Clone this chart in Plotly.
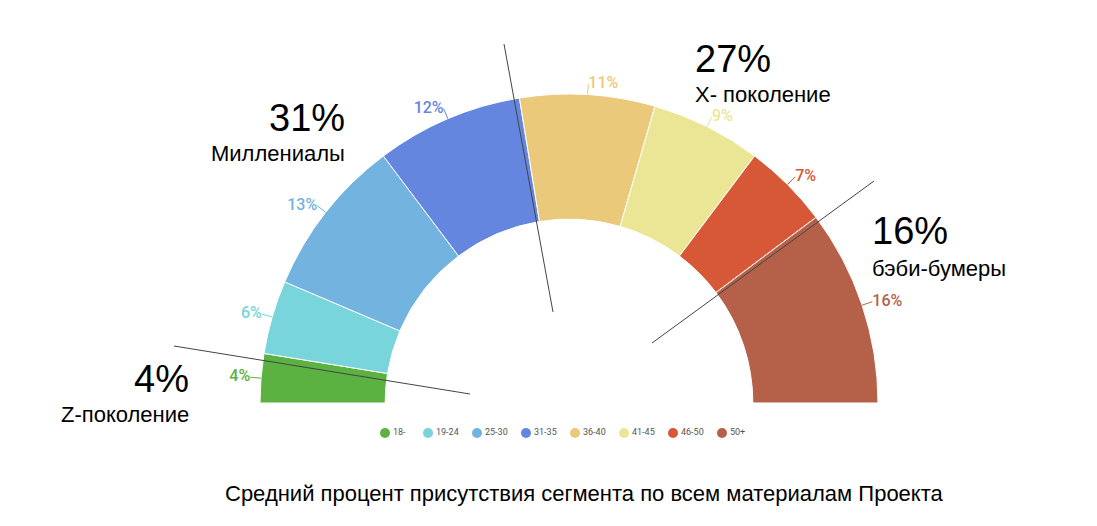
import plotly.graph_objects as go

# ---------------- data ----------------
categories = ["18-", "19-24", "25-30", "31-35", "36-40", "41-45", "46-50", "50+"]
values = [4, 6, 13, 12, 11, 9, 7, 16]
colors = ["#5BB240", "#77D5DB", "#72B4DF", "#6586DE", "#EBC97B", "#EAE695", "#D65836", "#B5614A"]

group_pcts = ["31%", "27%", "16%", "4%"]
group_names = ["Миллениалы", "X- поколение", "бэби-бумеры", "Z-поколение"]
title_text = "Средний процент присутствия сегмента по всем материалам Проекта"

# ---------------- layout constants ----------------
W, H = 1097, 526
CX, CY, R = 569, 403, 309          # centre and outer radius (px)
INNER = 0.595                      # inner radius as fraction of outer
RMAX = 1.2                         # radial range

total = sum(values)
thetas, widths = [], []
cum = 0.0
for v in values:
    w = v / total * 180.0
    thetas.append(cum + w / 2)
    widths.append(w)
    cum += w

fig = go.Figure()

# donut segments
fig.add_trace(go.Barpolar(
    r=[1 - INNER] * len(values), base=[INNER] * len(values),
    theta=thetas, width=widths,
    marker=dict(color=colors, line=dict(color="white", width=1)),
    showlegend=False, hoverinfo="skip",
))

# leader lines
for t, c in zip(thetas, colors):
    fig.add_trace(go.Scatterpolar(
        r=[1.0, 1.035], theta=[t, t], mode="lines",
        line=dict(color=c, width=1), showlegend=False, hoverinfo="skip",
    ))

# percent labels
fig.add_trace(go.Scatterpolar(
    r=[1.035] * len(values), theta=thetas, mode="text",
    text=[f"{v}%" for v in values],
    textposition=["middle left" if t < 90 else "middle right" for t in thetas],
    textfont=dict(color=colors, size=16, family="Roboto", weight=500),
    showlegend=False, hoverinfo="skip",
))

# legend built on a hidden cartesian axis
lx = []
x = 385.0
for lab in categories:
    lx.append(x)
    x += 13 + 3.0 * len(lab) + 21
LY = 433
fig.add_trace(go.Scatter(
    x=lx, y=[LY] * len(lx), mode="markers",
    marker=dict(color=colors, size=10, symbol="circle"),
    showlegend=False, hoverinfo="skip", xaxis="x", yaxis="y",
))
fig.add_trace(go.Scatter(
    x=[v + 8 for v in lx], y=[LY] * len(lx), mode="text",
    text=categories, textposition="middle right",
    textfont=dict(color="#555555", size=9, family="Roboto"),
    showlegend=False, hoverinfo="skip", xaxis="x", yaxis="y",
))

rpx = RMAX * R
fig.update_layout(
    width=W, height=H,
    margin=dict(l=0, r=0, t=0, b=0),
    paper_bgcolor="white", plot_bgcolor="rgba(0,0,0,0)",
    showlegend=False,
    polar=dict(
        domain=dict(x=[(CX - rpx) / W, (CX + rpx) / W],
                    y=[(H - CY) / H, (H - CY + rpx) / H]),
        sector=[0, 180],
        bgcolor="white",
        radialaxis=dict(range=[0, RMAX], visible=False, showgrid=False),
        angularaxis=dict(rotation=180, direction="clockwise", visible=False,
                         showgrid=False, thetaunit="degrees"),
    ),
    xaxis=dict(range=[0, W], domain=[0, 1], visible=False, fixedrange=True),
    yaxis=dict(range=[H, 0], domain=[0, 1], visible=False, fixedrange=True),
)

# generation separator lines
sep = [((174, 346), (470, 394)), ((504, 44), (553, 312)), ((652, 343), (874, 181))]
for (x0, y0), (x1, y1) in sep:
    fig.add_shape(type="line", xref="paper", yref="paper",
                  x0=x0 / W, y0=1 - y0 / H, x1=x1 / W, y1=1 - y1 / H,
                  line=dict(color="#444444", width=1), layer="above")

# generation annotations
big_pos = [(347, 118, 154, "right"), (693, 59, 95, "left"), (870, 231, 268, "left"), (191, 379, 414, "right")]
for (pct, name), (xx, y1, y2, anc) in zip(zip(group_pcts, group_names), big_pos):
    fig.add_annotation(x=xx / W, y=1 - y1 / H, xref="paper", yref="paper",
                       text=pct, showarrow=False, xanchor=anc, yanchor="middle",
                       font=dict(size=38, color="black", family="Liberation Sans"))
    fig.add_annotation(x=xx / W, y=1 - y2 / H, xref="paper", yref="paper",
                       text=name, showarrow=False, xanchor=anc, yanchor="middle",
                       font=dict(size=22, color="black", family="Liberation Sans"))

fig.add_annotation(x=584 / W, y=1 - 493 / H, xref="paper", yref="paper",
                   text=title_text, showarrow=False, xanchor="center", yanchor="middle",
                   font=dict(size=22, color="black", family="Liberation Sans"))

fig.write_html("out.html")
